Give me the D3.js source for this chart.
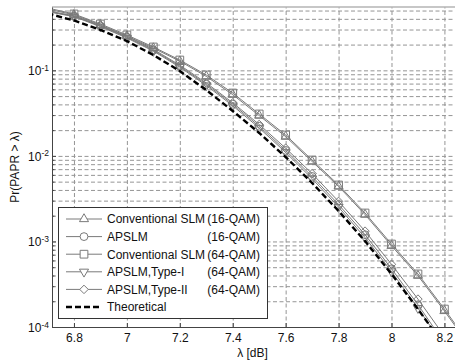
<!DOCTYPE html>
<html lang="en">
<head>
<meta charset="utf-8">
<title>PAPR CCDF</title>
<script src="https://d3js.org/d3.v7.min.js"></script>
<style type="text/css">
    body{ margin:0; background:#fff; }
    text{ font-family:"Liberation Sans", Arial, sans-serif; fill:#111; }
    .grid line{ stroke:#959595; stroke-dasharray:4,2.5; }
    .grid path{ display:none; }
</style>
</head>
<body>
<script type="text/javascript">

    // lambda points (dB); markers only drawn from 6.8 to 8.2
    const lambda = [6.7, 6.8, 6.9, 7.0, 7.1, 7.2, 7.3, 7.4, 7.5, 7.6, 7.7, 7.8, 7.9, 8.0, 8.1, 8.2, 8.3];

    const convSlm16 = [0.52, 0.446, 0.34, 0.252, 0.182, 0.128, 0.085, 0.052, 0.0296, 0.0168, 0.0086, 0.0044, 0.00206, 0.00089, 0.000398, 0.000154, 0.000057];
    const apslm16   = [0.49, 0.43, 0.329, 0.244, 0.172, 0.112, 0.0688, 0.0402, 0.0222, 0.0116, 0.00575, 0.0027, 0.0012, 0.00048, 0.000182, 0.000065, 0.000021];
    const convSlm64 = [0.536, 0.456, 0.348, 0.259, 0.1875, 0.132, 0.0883, 0.0543, 0.0309, 0.01754, 0.00895, 0.00457, 0.00215, 0.000933, 0.000417, 0.000162, 0.00006];
    const typeI64   = [0.485, 0.425, 0.324, 0.239, 0.168, 0.109, 0.0665, 0.0386, 0.0212, 0.011, 0.00542, 0.00252, 0.00111, 0.000445, 0.000166, 0.000059, 0.000019];
    const typeII64  = [0.495, 0.435, 0.334, 0.249, 0.176, 0.115, 0.0712, 0.0418, 0.0233, 0.0123, 0.0062, 0.00294, 0.00132, 0.00054, 0.000212, 0.000078, 0.000026];
    const theory    = [0.462, 0.383, 0.2965, 0.2203, 0.151, 0.0982, 0.0589, 0.0335, 0.01854, 0.0097, 0.00482, 0.00227, 0.00101, 0.000417, 0.000162, 0.00006, 0.00002];

    const legendNames = ["Conventional SLM", "APSLM", "Conventional SLM", "APSLM,Type-I", "APSLM,Type-II", "Theoretical"];
    const legendQam = ["(16-QAM)", "(16-QAM)", "(64-QAM)", "(64-QAM)", "(64-QAM)", ""];

    const xTicks = [6.8, 7.0, 7.2, 7.4, 7.6, 7.8, 8.0, 8.2];
    const xTickLabels = ["6.8", "7", "7.2", "7.4", "7.6", "7.8", "8", "8.2"];
    const yTicks = [1e-4, 1e-3, 1e-2, 1e-1];
    const yTickExp = ["-4", "-3", "-2", "-1"];

    //declare consts
    const w = 455;
    const h = 363;
    const pLeft = 52, pTop = 7, pRight = 455, pBottom = 327;

    const x = d3.scaleLinear().domain([6.717, 8.24]).range([pLeft, pRight]);
    const y = d3.scaleLog().domain([1e-4, 0.55]).range([pBottom, pTop]);

    // minor log grid values 2..9 per decade
    const minorY = [];
    yTicks.forEach(t => { for (let k = 2; k <= 9; k++) { if (k * t <= 0.55) minorY.push(k * t); } });

    const svg = d3.select("body")
        .append("svg")
        .attr("width", w)
        .attr("height", h);

    //grid
    svg.append("g")
        .attr("class", "grid")
        .attr("transform", "translate(0," + pBottom + ")")
        .call(d3.axisBottom(x).tickValues(xTicks).tickSize(-(pBottom - pTop)).tickFormat(""));

    svg.append("g")
        .attr("class", "grid")
        .attr("transform", "translate(" + pLeft + ",0)")
        .call(d3.axisLeft(y).tickValues(yTicks.concat(minorY)).tickSize(-(pRight - pLeft)).tickFormat(""));

    //frame
    svg.append("line").attr("x1", pLeft).attr("x2", pRight).attr("y1", pTop).attr("y2", pTop)
        .attr("stroke", "#b4b4b4").attr("stroke-width", 1.5);

    //x axis
    const xAxis = svg.append("g")
        .attr("transform", "translate(0," + pBottom + ")")
        .call(d3.axisBottom(x).tickValues(xTicks).tickSizeInner(-4).tickSizeOuter(0).tickPadding(6)
            .tickFormat((d, i) => xTickLabels[i]));
    xAxis.select(".domain").attr("stroke", "#444");
    xAxis.selectAll(".tick line").attr("stroke", "#444");
    xAxis.selectAll("text").style("font-size", "12px").attr("fill", "#111");

    //y axis minor ticks
    svg.append("g")
        .attr("transform", "translate(" + pLeft + ",0)")
        .call(d3.axisLeft(y).tickValues(minorY).tickSize(-2.5).tickFormat(""))
        .call(g => g.select(".domain").remove())
        .selectAll("line").attr("stroke", "#444");

    //y axis
    const yAxis = svg.append("g")
        .attr("transform", "translate(" + pLeft + ",0)")
        .call(d3.axisLeft(y).tickValues(yTicks).tickSizeInner(-4).tickSizeOuter(0).tickFormat(""));
    yAxis.select(".domain").attr("stroke", "#444");
    yAxis.selectAll(".tick line").attr("stroke", "#444");
    yAxis.selectAll(".tick").append("text")
        .attr("x", -3).attr("dy", "0.36em")
        .attr("text-anchor", "end")
        .style("font-size", "12px")
        .each(function(d, i) {
            const t = d3.select(this);
            t.append("tspan").text("10");
            t.append("tspan").attr("dy", "-0.5em").style("font-size", "8.5px").text(yTickExp[i]);
        });

    //axis labels
    svg.append("text")
        .attr("x", (pLeft + pRight) / 2 - 1)
        .attr("y", 357)
        .attr("text-anchor", "middle")
        .style("font-size", "12px")
        .text("λ [dB]");

    svg.append("text")
        .attr("transform", "translate(19," + ((pTop + pBottom) / 2) + ") rotate(-90)")
        .attr("text-anchor", "middle")
        .style("font-size", "12px")
        .text("Pr(PAPR > λ)");

    //curves
    svg.append("clipPath").attr("id", "plotclip")
        .append("rect").attr("x", pLeft).attr("y", pTop).attr("width", pRight - pLeft).attr("height", pBottom - pTop);

    const diamond = { draw(ctx, size) { const r = Math.sqrt(size / 2); ctx.moveTo(0, -r); ctx.lineTo(r, 0); ctx.lineTo(0, r); ctx.lineTo(-r, 0); ctx.closePath(); } };
    const triDown = { draw(ctx, size) { const s = Math.sqrt(size * 4 / Math.sqrt(3)); const hh = s * Math.sqrt(3) / 2; ctx.moveTo(-s / 2, -hh / 3); ctx.lineTo(s / 2, -hh / 3); ctx.lineTo(0, 2 * hh / 3); ctx.closePath(); } };

    const series = [
        { values: convSlm16, symbol: d3.symbolTriangle, size: 36 },
        { values: apslm16, symbol: d3.symbolCircle, size: 48 },
        { values: convSlm64, symbol: d3.symbolSquare, size: 60 },
        { values: typeI64, symbol: triDown, size: 36 },
        { values: typeII64, symbol: diamond, size: 36 },
        { values: theory, symbol: null }
    ];

    const line = d3.line().x((d, i) => x(lambda[i])).y(d => y(d));

    const plot = svg.append("g").attr("clip-path", "url(#plotclip)");

    series.forEach(s => {
        if (s.symbol) {
            plot.append("path")
                .attr("d", line(s.values))
                .attr("fill", "none")
                .attr("stroke", "#7a7a7a")
                .attr("stroke-width", 1);
            plot.selectAll(null)
                .data(s.values.slice(1, 16).map((v, i) => [lambda[i + 1], v]))
                .enter()
                .append("path")
                .attr("transform", d => "translate(" + x(d[0]) + "," + y(d[1]) + ")")
                .attr("d", d3.symbol(s.symbol, s.size))
                .attr("fill", "none")
                .attr("stroke", "#7a7a7a")
                .attr("stroke-width", 1);
        } else {
            plot.append("path")
                .attr("d", line(s.values))
                .attr("fill", "none")
                .attr("stroke", "#000")
                .attr("stroke-width", 2.4)
                .attr("stroke-dasharray", "6,3");
        }
    });

    //legend
    const lg = svg.append("g");
    lg.append("rect")
        .attr("x", 58.5).attr("y", 207.5).attr("width", 209).attr("height", 111)
        .attr("fill", "#fff").attr("stroke", "#333").attr("stroke-width", 1);

    const rows = lg.selectAll("g.row")
        .data(series)
        .enter()
        .append("g")
        .attr("class", "row")
        .attr("transform", (d, i) => "translate(0," + (219 + i * 17.6) + ")");

    rows.append("line")
        .attr("x1", 66).attr("x2", 102)
        .attr("stroke", d => d.symbol ? "#7a7a7a" : "#000")
        .attr("stroke-width", d => d.symbol ? 1 : 2.4)
        .attr("stroke-dasharray", d => d.symbol ? null : "6,3");

    rows.filter(d => d.symbol).append("path")
        .attr("transform", "translate(84,0)")
        .attr("d", d => d3.symbol(d.symbol, d.size)())
        .attr("fill", "#fff")
        .attr("stroke", "#7a7a7a");

    rows.append("text")
        .attr("x", 107).attr("dy", "0.36em")
        .style("font-size", "12px")
        .text((d, i) => legendNames[i]);

    rows.append("text")
        .attr("x", 260).attr("dy", "0.36em")
        .attr("text-anchor", "end")
        .style("font-size", "12px")
        .text((d, i) => legendQam[i]);

</script>
</body>
</html>
